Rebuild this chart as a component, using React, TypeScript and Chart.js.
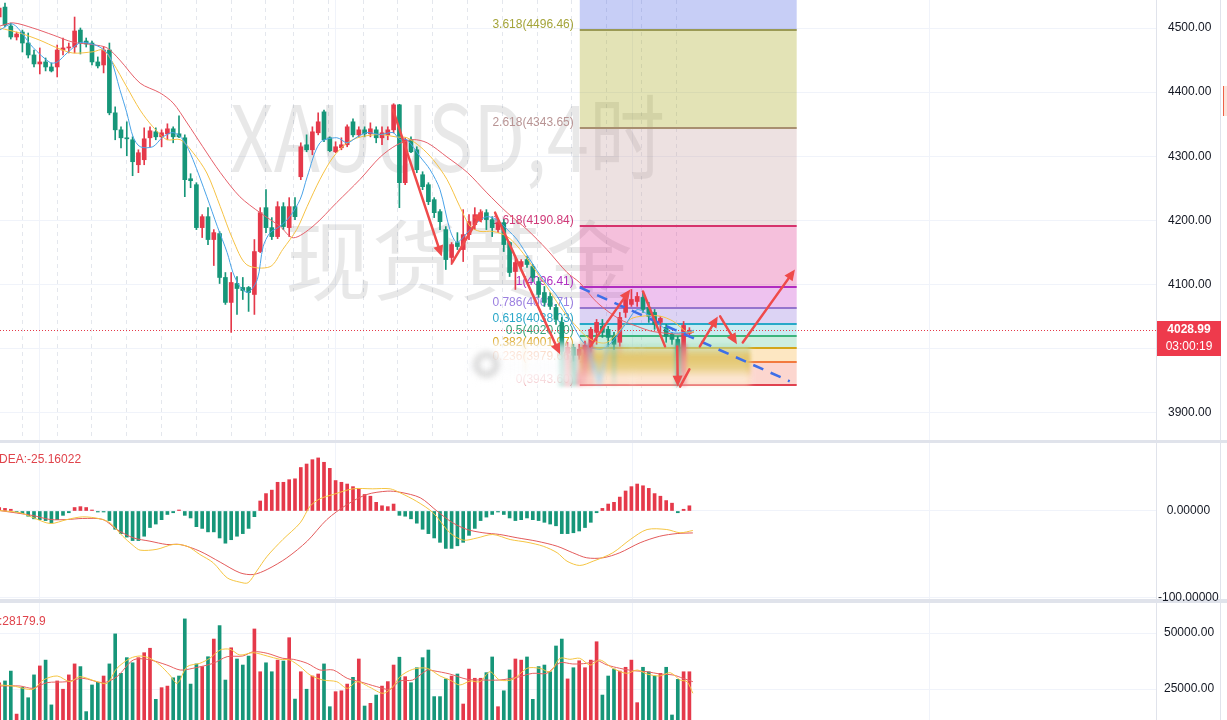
import React, { useEffect, useRef } from "react";
import { Chart, registerables } from "chart.js";
Chart.register(...registerables);

const FONT = '"Liberation Sans", Arial, sans-serif';
const X_MIN = 0.138;
const X_MAX = 199.45;

const OPEN = [
  4517.1,4532.6,4503.1,4486,4493.7,4476.6,4458,4444,4447.1,4439.3,
  4439.3,4465.7,4468.9,4470.4,4496.8,4479.7,4476.6,4447.1,4442.4,4465.7,
  4367.8,4341.3,4328.9,4325.8,4286.9,4294.7,4328.9,4338.2,4330.4,4335.1,
  4342.9,4335.1,4328.9,4265.1,4255.8,4188.9,4206,4170.3,4179.6,4111.2,
  4072.3,4101.8,4095.6,4095.6,4084.7,4151.6,4220,4188.9,4174.9,4221.6,
  4188.9,4221.6,4268.2,4318,4310.2,4336.7,4369.3,4328.9,4307.1,4313.3,
  4318,4353.8,4333.5,4341.3,4335.1,4341.3,4328.9,4333.5,4341.3,4380.2,
  4258.9,4325.8,4310.2,4271.3,4255.8,4232.5,4213.8,4185.8,4142.3,4165.6,
  4154.7,4178,4193.6,4201.4,4212.2,4201.4,4185.8,4196.7,4165.6,4120.5,
  4128.3,4139.1,4128.3,4104.9,4087.8,4081.6,4064.5,4041.2,3993,4002.3,
  3989.9,3999.2,4002.3,4025.6,4035,4030.3,4019.4,4010.1,4056.7,4069.2,
  4073.8,4080.1,4064.5,4056.7,4041.2,4033.4,4022.5,4014.7,3965,4024,
];
const CLOSE = [
  4531.1,4504.6,4486,4490.6,4476.6,4458,4444,4447.1,4439.3,4433.1,
  4465.7,4468.9,4470.4,4495.3,4476.6,4475.1,4447.1,4440.9,4465.7,4367.8,
  4341.3,4328.9,4327.3,4291.6,4305.6,4327.3,4339.8,4330.4,4336.7,4342.9,
  4330.4,4330.4,4263.6,4262,4188.9,4206,4170.3,4181.1,4111.2,4072.3,
  4103.4,4094,4090.9,4087.8,4151.6,4212.2,4188.9,4174.9,4221.6,4190.5,
  4221.6,4206,4314.9,4310.2,4338.2,4353.8,4325.8,4308.7,4314.9,4318,
  4346,4333.5,4341.3,4335.1,4342.9,4328.9,4336.7,4341.3,4380.2,4258.9,
  4325.8,4307.1,4279.1,4252.7,4229.3,4212.2,4198.2,4139.1,4162.5,4159.4,
  4178,4198.2,4209.1,4212.2,4201.4,4188.9,4196.7,4162.5,4118.9,4134.5,
  4136,4131.4,4111.2,4084.7,4072.3,4066.1,4045.8,3996.1,4002.3,3989.9,
  3999.2,4005.4,4030.3,4041.2,4025.6,4017.8,4007,4048.9,4076.9,4076.9,
  4081.6,4061.4,4050.5,4038.1,4047.4,4019.4,4014.7,3957.2,4036.5,4028.99,
];
const HIGH = [
  4535.7,4538.8,4507.7,4493.7,4496.8,4492.2,4465.7,4468.9,4453.3,4445.5,
  4473.5,4484.4,4476.6,4517.1,4500,4484.4,4479.7,4454.9,4470.4,4476.6,
  4377.1,4346,4353.8,4330.4,4310.2,4344.4,4346,4344.4,4341.3,4350.7,
  4346,4363.1,4333.5,4272.9,4258.9,4209.1,4220,4185.8,4182.7,4118.9,
  4118.9,4112.7,4111.2,4097.2,4170.3,4220,4248,4204.5,4229.3,4227.8,
  4235.6,4235.6,4321.1,4333.5,4346,4367.8,4372,4330.4,4322.7,4328.9,
  4349.1,4358.4,4346,4346,4352.2,4346,4346,4346,4382,4381,
  4328.9,4330.4,4314.9,4276,4258.9,4235.6,4216.9,4190.5,4165.6,4181.1,
  4216.9,4209.1,4220,4216.9,4216.9,4206,4201.4,4201.4,4167.1,4142.3,
  4139.1,4143.8,4131.4,4111.2,4097.2,4087.8,4069.2,4048.9,4010.1,4007,
  4007,4012,4033.4,4045.8,4045.8,4035,4025.6,4056.7,4084.7,4092.5,
  4087.8,4087.8,4072.3,4061.4,4050.5,4038.1,4025.6,4019.4,4042.7,4033,
];
const LOW = [
  4512.4,4501.5,4482.8,4481.3,4462.6,4453.3,4439.3,4428.4,4433.1,4431.5,
  4423.7,4458,4461.1,4461.1,4459.5,4470.4,4442.4,4437.7,4430,4364.7,
  4325.8,4313.3,4300.9,4269.8,4274.5,4286.9,4314.9,4325.8,4314.9,4325.8,
  4321.1,4328.9,4237.1,4251.1,4185.8,4173.4,4162.5,4129.8,4101.8,4069.2,
  4025.6,4053.6,4076.9,4058.3,4053.6,4150,4181.1,4170.3,4171.8,4185.8,
  4174.9,4201.4,4263.6,4307.1,4302.4,4333.5,4322.7,4307.1,4305.6,4310.2,
  4314.9,4330.4,4330.4,4330.4,4330.4,4321.1,4318,4325.8,4336.7,4220,
  4255.8,4305.6,4274.5,4248,4224.7,4204.5,4185.8,4123.6,4131.4,4154.7,
  4136,4170.3,4185.8,4198.2,4185.8,4174.9,4181.1,4151.6,4112.7,4092.5,
  4123.6,4126.7,4104.9,4080.1,4066.1,4061.4,4038.1,3991.4,3983.6,3980.5,
  3983.6,3991.4,3994.5,4007,4017.8,4003.8,3999.2,4003.8,4048.9,4066.1,
  4066.1,4056.7,4041.2,4030.3,4025.6,4010.1,4007,3944,3957.2,4022,
];
const VOLUME = [
  27700,28600,33000,13800,25800,21100,31300,35300,37900,17900,
  28600,24900,31300,36200,35000,14900,26800,28000,30800,36200,
  49600,32000,39000,36700,39000,41200,43200,20400,25600,26300,
  30000,30800,56300,27200,36200,35000,39400,47300,53300,29000,
  43400,38400,35700,39700,51800,32700,36700,32700,37900,37500,
  47900,20500,32700,24900,30800,31700,36200,17100,23800,24200,
  27200,30200,38400,17400,18600,22300,26300,28300,35700,39200,
  30500,27800,34500,39000,42400,21600,21600,29500,30800,31700,
  18300,33900,29800,29800,32300,39300,17100,24200,33500,38400,
  37900,39300,20400,35000,35700,32700,44200,47300,29500,34500,
  37600,34500,37900,46100,22300,30800,33900,33000,34700,37900,
  18900,34700,32700,30800,32000,34700,13400,29300,32700,32700,
];
const MACD_HIST = [
  4,3,2,-1,-3,-6,-9,-10,-11,-14,
  -10,-5,-2,4,5,4,1,-0.5,-0.5,-11,
  -21,-26,-30,-34,-34,-29,-19,-15,-10,-4,
  -2,1,-5,-8,-18,-20,-24,-24,-31,-37,
  -33,-29,-26,-20,-6.5,11.5,20,24,33,33,
  36,37,50,54,59,61,56,49,35,33,
  31,28,26,19,17,10,6,5,8,-5,
  -6,-9,-14,-21,-26,-31,-36,-43,-43,-40,
  -36,-28,-20,-11,-7,-4,-1,-4,-8,-11,
  -10,-8,-10,-11,-13,-15,-17,-26,-26,-25,
  -23,-19,-13,-2,3,8,10,16,23,28,
  31,29,26,20,17,12,9,-2,2,6,
];
const DIF_LINE = [[0.1,0.5],[3.6,-2],[5.8,-7.5],[8.8,-14.4],[11.7,-9.8],[14.4,-6.7],[17.4,-9],[19.1,-13.6],[21.3,-29],[23.1,-39.7],[24.3,-45],[27.2,-44],[30,-38.5],[32.4,-40.5],[34.6,-50],[36.9,-59.5],[39.3,-76.8],[41.5,-81.8],[42.9,-82.5],[44.4,-69],[46.2,-52],[48.9,-32.8],[51.9,-13.6],[53.6,5.5],[55.3,14],[57.6,19],[61,25.5],[64.4,25.5],[67.4,25.5],[69.1,21],[72,11],[74.8,-2],[77.7,-25],[80,-33.5],[82.4,-31],[85.1,-27],[88.1,-32.8],[91,-35.9],[93.8,-40.5],[96.2,-48],[97.9,-57.7],[100.1,-62.6],[102.4,-57.7],[105.8,-48],[108.8,-32.8],[111.7,-21.3],[115.1,-21.3],[117.4,-25],[119.6,-22.4]];
const DEA_LINE = [[0.1,0.5],[5.8,-5.2],[8.8,-9.8],[11.7,-9.8],[14.4,-8.6],[17.9,-9.8],[20.3,-21.3],[23.1,-30.8],[26,-34.7],[28.9,-38.5],[31.2,-38.5],[34.6,-46.2],[38.1,-58.8],[41.5,-71],[43.8,-73],[46.2,-67.2],[49.6,-53.8],[53.1,-34.7],[56.5,-9.8],[60,7.5],[63.4,19],[66.9,22.8],[69.1,21.6],[72.6,15.2],[75.5,-0.2],[78.2,-13.6],[80.7,-21.3],[83.4,-25],[86.3,-27],[89.3,-30.8],[92.7,-34.7],[96.2,-40.5],[98.9,-48],[101.3,-53.8],[104.1,-53.8],[107,-48],[110.5,-36.5],[113.9,-29],[116.9,-25.9],[119.6,-25.2]];
const MA_FAST = [[0.1,4497],[2.4,4506],[5.8,4470],[8.8,4446],[10,4447],[11.7,4461],[13.9,4477],[15.1,4477],[17.4,4470],[19.1,4455],[20.8,4404],[22,4368],[23.1,4330],[24.3,4315],[26.5,4315],[28.2,4330],[30,4337],[31.7,4326],[33.4,4295],[35.8,4237],[37.6,4191],[39.3,4150],[40.3,4119],[41.5,4097],[42.9,4088],[44.5,4108],[45.5,4159],[46.7,4181],[48.4,4191],[50.1,4206],[51.9,4233],[53.1,4268],[55.3,4321],[58.2,4329],[60,4321],[61.7,4330],[63.4,4337],[65.7,4334],[67.9,4337],[69.1,4326],[70.3,4326],[72.6,4299],[74.3,4279],[76,4248],[77.7,4186],[78.9,4166],[80.7,4181],[82.4,4197],[84.1,4206],[85.8,4201],[87.6,4186],[89.3,4170],[91.5,4139],[93.8,4108],[96.2,4082],[98.4,4046],[101,4007],[103.6,3999],[105.3,4007],[108.2,4041],[110,4061],[112.2,4051],[115.7,4026],[118.6,4026],[119.8,4029]];
const MA_MID = [[0.1,4500],[3.6,4492],[7,4481],[10,4469],[12.7,4461],[16.2,4463],[17.9,4466],[19.6,4446],[22,4408],[24.3,4372],[26.5,4346],[28.9,4326],[31.2,4326],[33.4,4306],[35.8,4274],[38.1,4222],[40.3,4170],[42.7,4131],[46.7,4128],[48.9,4155],[51.3,4186],[53.1,4222],[55.3,4264],[57.6,4299],[60,4321],[62.2,4330],[65.7,4334],[68.6,4330],[70.3,4329],[72.6,4315],[74.8,4295],[77.2,4264],[79.4,4222],[81.2,4191],[82.9,4183],[85.1,4183],[87.6,4175],[89.8,4155],[92,4128],[94.4,4097],[96.7,4066],[98.9,4041],[101.9,4015],[104.8,4010],[108.8,4046],[111,4051],[113.9,4051],[116.2,4043],[118.6,4026],[119.8,4027]];
const MA_SLOW = [[0.1,4503],[2.4,4508],[5.8,4500],[9.3,4489],[12.7,4478],[16.2,4474],[18.6,4469],[20.8,4450],[24.3,4414],[27.7,4399],[30,4383],[32.4,4352],[35.1,4315],[38.1,4275],[41.5,4237],[45,4212],[48.4,4191],[50.7,4173],[54.1,4191],[58.2,4228],[62.2,4264],[65.7,4299],[68.6,4318],[71.3,4326],[73.8,4321],[77.2,4299],[80.7,4275],[84.1,4243],[87.6,4212],[91,4186],[94.4,4155],[97.9,4119],[100.1,4103],[103.1,4072],[107,4046],[110,4035],[112.7,4027],[117.4,4023],[119.8,4026]];
const VOL_MA_FAST = [[0.1,26786],[2.4,26339],[5.8,24866],[7.6,29018],[10,30804],[12.2,28259],[13.9,30506],[16.9,28259],[18.6,27545],[20.3,34241],[22.6,38705],[24.3,39732],[26,38705],[27.7,35714],[29.4,31250],[30.7,27545],[32.4,34970],[34.6,36473],[36.3,38705],[38.1,42411],[39.8,42723],[41.5,40179],[43.8,41205],[46.2,39732],[48.4,38259],[50.1,37946],[51.9,34970],[53.6,31250],[55.8,29018],[58.2,28259],[60,25313],[61.7,28259],[63.9,25759],[66.2,23080],[67.9,26042],[69.1,30500],[71.3,33780],[73.8,34241],[76,30804],[77.7,29018],[79.4,26786],[81.2,28571],[82.9,28259],[84.6,32722],[86.3,29018],[88.6,29330],[91,34241],[93.2,34241],[95,32722],[96.7,38705],[98.4,38259],[100.1,38705],[101.9,35714],[103.6,37946],[105.8,34241],[108.2,32002],[110,33482],[111.7,31696],[113.9,30804],[115.7,32277],[117.4,29018],[118.6,28259],[119.6,23080]];
const VOL_MA_SLOW = [[0.1,26339],[3.6,26339],[5.8,25313],[8.2,27813],[11.7,28259],[14.4,29777],[17.9,27813],[20.3,30506],[23.1,37946],[25.5,38259],[28.9,35714],[31.2,33482],[33.4,34241],[36.9,36473],[39.3,39430],[42,39732],[43.8,41652],[46.2,40938],[48.9,38705],[50.7,38259],[53.1,36473],[55.3,33482],[57.6,33482],[60,29777],[62.2,28259],[65.1,26042],[67.4,24866],[69.1,28600],[71.3,29018],[73.8,33482],[74.8,33170],[77.7,31696],[80.7,29330],[83.4,29018],[86.3,29018],[89.3,30223],[92,32002],[94.4,32002],[96.7,36741],[98.9,36161],[101.3,36473],[103.1,37634],[104.8,35714],[107,34241],[109.3,33170],[111.7,32722],[113.9,31696],[116.2,31250],[117.9,29777],[119.6,28259]];

const PRICE_TICKS = [3900, 4000, 4100, 4200, 4300, 4400, 4500];
const MACD_TICKS = [-100, 0];
const VOL_TICKS = [25000, 50000];

const FIB_RATIOS = ["0", "0.236", "0.382", "0.5", "0.618", "0.786", "1", "1.618", "2.618", "3.618", "4.236"];
const FIB_PRICES = [3943.6, 3979.66, 4001.97, 4020.0, 4038.03, 4063.71, 4096.41, 4190.84, 4343.65, 4496.46, 4590.93];
const FIB_RANGE = [100.1, 137.5];
const FIB_LINE_COLORS = ["#e04250", "#f27a3f", "#d3a51a", "#3cb47d", "#26a9c8", "#9575cd", "#b12dc0", "#d6336c", "#a88f70", "#9b9a55"];
const FIB_LABEL_COLORS = ["#d94a56", "#f07a3c", "#d9a21b", "#3aa37a", "#2aa7c9", "#9b7fe0", "#b030c0", "#d03a78", "#b89494", "#a4a43a"];
const FIB_FILLS = [
  "rgba(245,118,95,0.3)", "rgba(248,175,52,0.3)", "rgba(88,198,148,0.3)", "rgba(75,192,212,0.3)",
  "rgba(138,108,218,0.3)", "rgba(198,52,202,0.3)", "rgba(222,45,138,0.3)", "rgba(195,155,155,0.3)",
  "rgba(162,162,12,0.3)", "rgba(68,92,225,0.3)",
];

const LAST_PRICE = 4028.99;
const LAST_TIME = "03:00:19";
const MACD_LABEL = "DEA:-25.16022";
const VOL_LABEL = ":28179.9";

// [fromIndex, fromPrice, toIndex, toPrice, head]
const ARROWS = [
  [67.9, 4372.4, 76.3, 4143.8, 1],
  [78.1, 4134.5, 83.4, 4215.4, 1],
  [85.5, 4212.2, 96.7, 3991.4, 1],
  [101.9, 4003.8, 108.8, 4092.5, 1],
  [111, 4089.4, 114.8, 4003.8, 0],
  [116.9, 4003.8, 117, 3941, 1],
  [117.4, 3941, 119, 3968, 0],
  [120.8, 4003.8, 123.9, 4050.5, 1],
  [124.3, 4050.5, 127.2, 4007, 1],
  [128.2, 4010, 137.2, 4123.6, 1],
];
const TREND = [100.1, 4095.6, 136.3, 3949.4];
const BAND = [81, 129.5, 4008, 3943, 4004];
const GRID_SOLID = [6.86, 57.9, 109.1, 160.3];
const GRID_DASH = [3.88, 9.88, 15.88, 21.88, 27.88, 33.88, 39.88, 45.88, 50.64, 56.64, 62.64, 68.64, 74.64, 80.64, 86.64, 92.64, 98.64, 104.64, 110.64, 116.64];

const UP = "#e5394a";
const DOWN = "#169679";
const GRID = "#f0f3fa";
const AXIS_BORDER = "#e0e3eb";

function drawVGrid(chart: any) {
  const { ctx, chartArea: a, scales } = chart;
  const x = scales.x;
  ctx.save();
  ctx.strokeStyle = GRID;
  ctx.lineWidth = 1;
  for (const v of GRID_SOLID) {
    const px = Math.round(x.getPixelForValue(v)) + 0.5;
    if (px < a.left || px > a.right) continue;
    ctx.beginPath();
    ctx.moveTo(px, a.top);
    ctx.lineTo(px, a.bottom);
    ctx.stroke();
  }
  ctx.restore();
}

const pricePlugin = {
  id: "pricePlugin",
  beforeDatasetsDraw(chart: any) {
    const { ctx, chartArea: a, scales } = chart;
    const x = scales.x, y = scales.y;
    drawVGrid(chart);
    ctx.save();
    ctx.beginPath();
    ctx.rect(a.left, a.top, a.right - a.left, a.bottom - a.top);
    ctx.clip();
    ctx.strokeStyle = "#e4e7ed";
    ctx.lineWidth = 1;
    ctx.setLineDash([4, 4]);
    for (const v of GRID_DASH) {
      const px = Math.round(x.getPixelForValue(v)) + 0.5;
      ctx.beginPath();
      ctx.moveTo(px, a.top);
      ctx.lineTo(px, a.bottom);
      ctx.stroke();
    }
    ctx.setLineDash([]);
    // watermark
    ctx.fillStyle = "rgba(0,0,0,0.09)";
    ctx.textAlign = "left";
    ctx.textBaseline = "alphabetic";
    ctx.font = '92px "Noto Sans CJK SC"';
    const t1 = "XAUUSD,4时";
    const w1 = ctx.measureText(t1).width;
    ctx.save();
    ctx.translate(230, 172);
    ctx.scale(435 / w1, 1);
    ctx.fillText(t1, 0, 0);
    ctx.restore();
    ctx.font = '87px "Noto Sans CJK SC"';
    ctx.fillText("现货黄金", 285, 294);
    // fib fills
    const fx0 = x.getPixelForValue(FIB_RANGE[0]);
    const fx1 = x.getPixelForValue(FIB_RANGE[1]);
    for (let k = 0; k < FIB_PRICES.length - 1; k++) {
      const top = y.getPixelForValue(FIB_PRICES[k + 1]);
      const bot = y.getPixelForValue(FIB_PRICES[k]);
      ctx.fillStyle = FIB_FILLS[k];
      ctx.fillRect(fx0, top, fx1 - fx0, bot - top);
    }
    ctx.font = "12px " + FONT;
    ctx.textAlign = "right";
    ctx.textBaseline = "alphabetic";
    for (let k = 0; k < FIB_PRICES.length - 1; k++) {
      const py = Math.round(y.getPixelForValue(FIB_PRICES[k]));
      ctx.strokeStyle = FIB_LINE_COLORS[k];
      ctx.lineWidth = 2;
      ctx.beginPath();
      ctx.moveTo(fx0, py);
      ctx.lineTo(fx1, py);
      ctx.stroke();
      ctx.fillStyle = FIB_LABEL_COLORS[k];
      ctx.fillText(FIB_RATIOS[k] + "(" + FIB_PRICES[k].toFixed(2) + ")", fx0 - 6, py - 2);
    }
    const lp = Math.round(y.getPixelForValue(LAST_PRICE)) + 0.5;
    ctx.strokeStyle = UP;
    ctx.lineWidth = 1;
    ctx.setLineDash([1, 2]);
    ctx.beginPath();
    ctx.moveTo(a.left, lp);
    ctx.lineTo(a.right, lp);
    ctx.stroke();
    ctx.setLineDash([]);
    ctx.restore();
  },
  afterDatasetsDraw(chart: any) {
    const { ctx, chartArea: a, scales } = chart;
    const x = scales.x, y = scales.y;
    ctx.save();
    ctx.beginPath();
    ctx.rect(a.left, a.top, a.right - a.left, a.bottom - a.top);
    ctx.clip();
    const bx0 = x.getPixelForValue(BAND[0]);
    const bx1 = x.getPixelForValue(BAND[1]);
    const by0 = y.getPixelForValue(BAND[2]);
    const by1 = y.getPixelForValue(BAND[3]);
    const sy = y.getPixelForValue(BAND[4]);
    ctx.save();
    ctx.filter = "blur(2px)";
    ctx.drawImage(chart.canvas, bx0, sy, bx1 - bx0, 4, bx0, by0, bx1 - bx0, by1 - by0);
    ctx.filter = "blur(3px)";
    const g = ctx.createLinearGradient(0, by0, 0, by1);
    g.addColorStop(0, "rgba(255,255,255,0.2)");
    g.addColorStop(0.5, "rgba(255,255,255,0.45)");
    g.addColorStop(1, "rgba(255,255,255,0.6)");
    ctx.fillStyle = g;
    ctx.fillRect(bx0, by0, bx1 - bx0, by1 - by0);
    const lx = x.getPixelForValue(FIB_RANGE[0] - 1);
    const lg = ctx.createLinearGradient(bx0, 0, lx, 0);
    lg.addColorStop(0, "rgba(255,255,255,0.85)");
    lg.addColorStop(1, "rgba(255,255,255,0.55)");
    ctx.fillStyle = lg;
    ctx.fillRect(bx0, by0, lx - bx0, by1 - by0);
    ctx.strokeStyle = "rgba(150,150,150,0.45)";
    ctx.lineWidth = 5;
    ctx.beginPath();
    ctx.arc(x.getPixelForValue(BAND[0] + 3), (by0 + by1) / 2, 10, 0, Math.PI * 2);
    ctx.stroke();
    ctx.restore();
    ctx.strokeStyle = "#3d6fe8";
    ctx.lineWidth = 2.5;
    ctx.setLineDash([11, 8]);
    ctx.beginPath();
    ctx.moveTo(x.getPixelForValue(TREND[0]), y.getPixelForValue(TREND[1]));
    ctx.lineTo(x.getPixelForValue(TREND[2]), y.getPixelForValue(TREND[3]));
    ctx.stroke();
    ctx.setLineDash([]);
    ctx.strokeStyle = "#ef4a4a";
    ctx.fillStyle = "#ef4a4a";
    ctx.lineWidth = 2.5;
    ctx.lineCap = "round";
    for (const ar of ARROWS) {
      const x1 = x.getPixelForValue(ar[0]), y1 = y.getPixelForValue(ar[1]);
      const x2 = x.getPixelForValue(ar[2]), y2 = y.getPixelForValue(ar[3]);
      const ang = Math.atan2(y2 - y1, x2 - x1);
      const L = 11, Wd = 5;
      const ex = ar[4] ? x2 - Math.cos(ang) * 6 : x2;
      const ey = ar[4] ? y2 - Math.sin(ang) * 6 : y2;
      ctx.beginPath();
      ctx.moveTo(x1, y1);
      ctx.lineTo(ex, ey);
      ctx.stroke();
      if (ar[4]) {
        ctx.beginPath();
        ctx.moveTo(x2, y2);
        ctx.lineTo(x2 - L * Math.cos(ang) + Wd * Math.sin(ang), y2 - L * Math.sin(ang) - Wd * Math.cos(ang));
        ctx.lineTo(x2 - L * Math.cos(ang) - Wd * Math.sin(ang), y2 - L * Math.sin(ang) + Wd * Math.cos(ang));
        ctx.closePath();
        ctx.fill();
      }
    }
    ctx.restore();
  },
  afterDraw(chart: any) {
    const { ctx, chartArea: a, scales } = chart;
    const py = scales.y.getPixelForValue(LAST_PRICE);
    ctx.save();
    ctx.fillStyle = "#ee3a4c";
    ctx.fillRect(a.right + 1, Math.round(py) - 9, 64, 35);
    ctx.fillStyle = "#ffffff";
    ctx.textAlign = "center";
    ctx.textBaseline = "middle";
    ctx.font = "bold 12px " + FONT;
    ctx.fillText(LAST_PRICE.toFixed(2), a.right + 33, Math.round(py));
    ctx.font = "12px " + FONT;
    ctx.fillText(LAST_TIME, a.right + 33, Math.round(py) + 17);
    ctx.restore();
  },
};

function labelPlugin(id: string, text: string, baseline: number) {
  return {
    id,
    beforeDatasetsDraw(chart: any) {
      drawVGrid(chart);
    },
    afterDraw(chart: any) {
      const ctx = chart.ctx;
      ctx.save();
      ctx.fillStyle = "#e0434b";
      ctx.font = "12px " + FONT;
      ctx.textAlign = "left";
      ctx.textBaseline = "alphabetic";
      ctx.fillText(text, -1, baseline);
      ctx.restore();
    },
  };
}

function yAxis(min: number, max: number, ticks: number[], pad: number, fmt: (v: number) => string) {
  return {
    position: "right",
    min,
    max,
    afterBuildTicks: (s: any) => {
      s.ticks = ticks.map((v) => ({ value: v }));
    },
    afterFit: (s: any) => {
      s.width = 71;
      s.paddingTop = 0;
      s.paddingBottom = 0;
    },
    ticks: {
      callback: (v: any) => fmt(Number(v)),
      font: { size: 12, family: FONT },
      color: "#131722",
      crossAlign: "center",
      padding: pad,
      autoSkip: false,
      maxRotation: 0,
    },
    grid: { color: GRID, drawTicks: false, lineWidth: 1 },
    border: { display: true, color: AXIS_BORDER },
  };
}

const xAxis = { type: "linear", min: X_MIN, max: X_MAX, display: false, offset: false, grid: { display: false } };

const lineDs = (pts: number[][], color: string) => ({
  type: "line",
  data: pts.map((p) => ({ x: p[0], y: p[1] })),
  borderColor: color,
  borderWidth: 1,
  pointRadius: 0,
  tension: 0.3,
  fill: false,
  order: 0,
});

export default function App() {
  const priceRef = useRef<HTMLCanvasElement>(null);
  const macdRef = useRef<HTMLCanvasElement>(null);
  const volRef = useRef<HTMLCanvasElement>(null);

  useEffect(() => {
    document.body.style.margin = "0";
    Chart.defaults.font.family = FONT;
    const idx = OPEN.map((_, i) => i);
    const candleColors = idx.map((i) => (CLOSE[i] >= OPEN[i] ? UP : DOWN));
    const common = {
      responsive: false,
      animation: false,
      devicePixelRatio: 1,
      plugins: { legend: { display: false }, tooltip: { enabled: false } },
      events: [],
    };

    const price = new Chart(priceRef.current!, {
      type: "bar",
      data: {
        datasets: [
          lineDs(MA_FAST, "#4aa3e8"),
          lineDs(MA_MID, "#f6c244"),
          lineDs(MA_SLOW, "#e6606a"),
          {
            type: "bar",
            data: idx.map((i) => ({ x: i, y: [LOW[i], HIGH[i]] })),
            backgroundColor: candleColors,
            barThickness: 1,
            grouped: false,
            order: 2,
          },
          {
            type: "bar",
            data: idx.map((i) => ({ x: i, y: [OPEN[i], CLOSE[i]] })),
            backgroundColor: candleColors,
            barThickness: 4,
            minBarLength: 1,
            grouped: false,
            order: 1,
          },
        ],
      } as any,
      options: {
        ...common,
        layout: { padding: 0 },
        scales: {
          x: xAxis,
          y: yAxis(3857.9, 4543.64, PRICE_TICKS, 12, (v) => v.toFixed(2)),
        },
      } as any,
      plugins: [pricePlugin],
    });

    const macd = new Chart(macdRef.current!, {
      type: "bar",
      data: {
        datasets: [
          lineDs(DIF_LINE, "#f5c542"),
          lineDs(DEA_LINE, "#e35b5b"),
          {
            type: "bar",
            data: idx.map((i) => ({ x: i, y: MACD_HIST[i] })),
            backgroundColor: MACD_HIST.map((v) => (v >= 0 ? UP : DOWN)),
            barThickness: 3,
            minBarLength: 1,
            grouped: false,
            order: 1,
          },
        ],
      } as any,
      options: {
        ...common,
        layout: { padding: { bottom: 14 } },
        scales: {
          x: xAxis,
          y: yAxis(-101.15, 78.16, MACD_TICKS, 2, (v) => v.toFixed(5)),
        },
      } as any,
      plugins: [labelPlugin("macdLabel", MACD_LABEL, 20)],
    });

    const vol = new Chart(volRef.current!, {
      type: "bar",
      data: {
        datasets: [
          lineDs(VOL_MA_FAST, "#f5c542"),
          lineDs(VOL_MA_SLOW, "#e86060"),
          {
            type: "bar",
            data: idx.map((i) => ({ x: i, y: VOLUME[i] })),
            backgroundColor: candleColors,
            barThickness: 3,
            grouped: false,
            order: 1,
          },
        ],
      } as any,
      options: {
        ...common,
        layout: { padding: 0 },
        scales: {
          x: xAxis,
          y: yAxis(11161, 63393, VOL_TICKS, 8, (v) => v.toFixed(2)),
        },
      } as any,
      plugins: [labelPlugin("volLabel", VOL_LABEL, 22)],
    });

    return () => {
      price.destroy();
      macd.destroy();
      vol.destroy();
    };
  }, []);

  return (
    <div style={{ position: "relative", width: 1227, height: 720, background: "#ffffff", overflow: "hidden" }}>
      <div style={{ position: "absolute", left: 1220, top: 0, width: 1, height: 720, background: AXIS_BORDER, zIndex: 0 }} />
      <div style={{ position: "absolute", left: 1223, top: 86, width: 4, height: 30, background: "#fde3da", borderLeft: "1px solid #ee6248", zIndex: 0 }} />
      <canvas ref={priceRef} width={1227} height={440} style={{ position: "absolute", left: 0, top: 0, zIndex: 1 }} />
      <div style={{ position: "absolute", left: 0, top: 440, width: 1227, height: 3, background: AXIS_BORDER, zIndex: 1 }} />
      <div style={{ position: "absolute", left: 0, top: 599, width: 1227, height: 4, background: AXIS_BORDER, zIndex: 1 }} />
      <canvas ref={volRef} width={1227} height={117} style={{ position: "absolute", left: 0, top: 603, zIndex: 2 }} />
      <canvas ref={macdRef} width={1227} height={170} style={{ position: "absolute", left: 0, top: 443, zIndex: 3 }} />
    </div>
  );
}
